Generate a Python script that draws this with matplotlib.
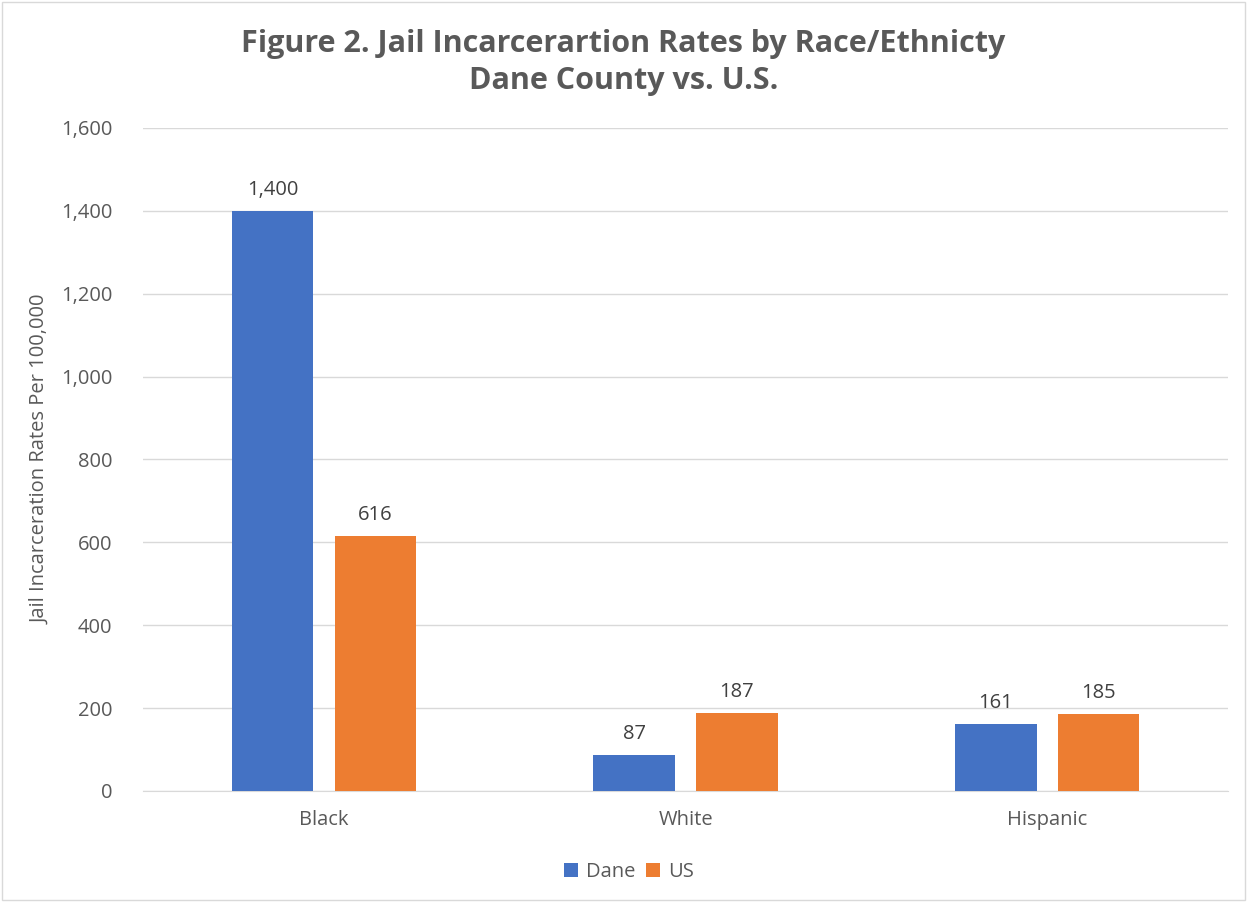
import numpy as np
import matplotlib.pyplot as plt
from matplotlib.patches import Rectangle

# Chart data
categories = ['Black', 'White', 'Hispanic']
dane = [1400, 87, 161]
us = [616, 187, 185]
series_names = ['Dane', 'US']
colors = ['#4472C4', '#ED7D31']

plt.rcParams['font.family'] = ['Open Sans', 'DejaVu Sans']
grey = '#595959'

fig = plt.figure(figsize=(12.47, 9.02), dpi=100)
ax = fig.add_axes([0.1147, 0.1231, 0.8701, 0.7350])

x = np.arange(len(categories))
w = 0.225
off = 0.142
b1 = ax.bar(x - off, dane, w, color=colors[0], label=series_names[0], zorder=3)
b2 = ax.bar(x + off, us, w, color=colors[1], label=series_names[1], zorder=3)

for bars in (b1, b2):
    for rect in bars:
        h = rect.get_height()
        ax.annotate(f'{h:,.0f}', (rect.get_x() + rect.get_width() / 2, h),
                    xytext=(0, 8), textcoords='offset points',
                    ha='center', va='bottom', fontsize=14.5, color='#404040')

ax.set_xlim(-0.5, 2.5)
ax.set_ylim(0, 1600)
ax.set_yticks(range(0, 1601, 200))
ax.set_yticklabels([f'{v:,}' for v in range(0, 1601, 200)])
ax.set_xticks(x)
ax.set_xticklabels(categories)
ax.yaxis.grid(True, color='#D9D9D9', linewidth=1, zorder=0)
ax.tick_params(axis='both', length=0, labelsize=14.5, colors=grey)
ax.tick_params(axis='x', pad=14)
ax.tick_params(axis='y', pad=22)
for s in ['top', 'right', 'left']:
    ax.spines[s].set_visible(False)
ax.spines['bottom'].set_color('#D9D9D9')

ax.set_ylabel('Jail Incarceration Rates Per 100,000', fontsize=14.5, color=grey, labelpad=8)

fig.text(0.5, 0.968, 'Figure 2. Jail Incarcerartion Rates by Race/Ethnicty\nDane County vs. U.S.',
         ha='center', va='top', fontsize=22, fontweight='bold', color=grey, linespacing=1.3)

ax.legend(loc='upper center', bbox_to_anchor=(0.448, -0.08), ncol=2, frameon=False,
          fontsize=14.5, handlelength=0.7, handleheight=0.7, columnspacing=0.5,
          handletextpad=0.4, labelcolor=grey)

fig.patches.append(Rectangle((0.002, 0.002), 0.996, 0.996, transform=fig.transFigure,
                             fill=False, edgecolor='#D9D9D9', linewidth=1))

fig.savefig('out.png', dpi=100)
